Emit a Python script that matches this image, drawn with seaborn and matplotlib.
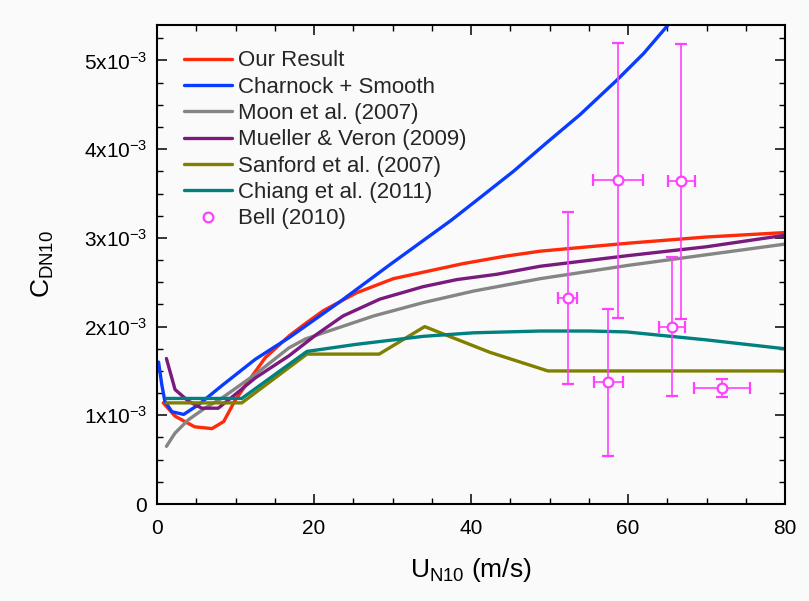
import numpy as np
import pandas as pd
import matplotlib
matplotlib.use('Agg')
import matplotlib.pyplot as plt
import seaborn as sns
from matplotlib.ticker import MultipleLocator
from matplotlib.lines import Line2D

# ----------------------
# Curves: U_N10 (m/s) and C_DN10 (in units of 1e-3)
our_u = [0.8, 2.3, 4.8, 7.0, 8.5, 9.9, 11.6, 13.8, 16.9, 19.0, 21.2, 25.4, 30.1, 34.8, 39.0, 44.1, 48.8, 55, 60, 70, 80]
our_cd = [1.14, 0.99, 0.87, 0.85, 0.93, 1.16, 1.38, 1.65, 1.90, 2.04, 2.18, 2.38, 2.54, 2.63, 2.71, 2.79, 2.85, 2.90, 2.94, 3.01, 3.06]

blue_u = [0.2, 0.6, 1.0, 1.9, 3.4, 5.3, 8.2, 12.5, 16.9, 23.3, 29.7, 37.5, 41.1, 45.4, 49.6, 53.9, 58.6, 62.0, 65.1, 66.0]
blue_cd = [1.60, 1.35, 1.16, 1.04, 1.01, 1.12, 1.33, 1.63, 1.88, 2.28, 2.70, 3.20, 3.45, 3.75, 4.07, 4.39, 4.78, 5.08, 5.40, 5.50]

moon_u = [1.2, 2.3, 4.0, 6.1, 8.2, 12.5, 16.8, 18.9, 21.2, 27.6, 33.9, 40.3, 48.8, 60, 70, 80]
moon_cd = [0.65, 0.80, 0.95, 1.08, 1.19, 1.46, 1.76, 1.86, 1.93, 2.12, 2.27, 2.40, 2.54, 2.69, 2.81, 2.93]

mueller_u = [1.2, 2.3, 4.0, 5.7, 7.8, 9.9, 12.5, 16.8, 20.3, 23.7, 28.4, 33.9, 38.2, 43.3, 48.8, 60, 70, 80]
mueller_cd = [1.64, 1.29, 1.16, 1.08, 1.08, 1.23, 1.42, 1.67, 1.91, 2.12, 2.31, 2.45, 2.53, 2.59, 2.68, 2.80, 2.90, 3.03]

sanford_u = [1.2, 10.8, 19.1, 28.3, 34.1, 42.4, 49.8, 80]
sanford_cd = [1.14, 1.14, 1.69, 1.69, 2.00, 1.71, 1.50, 1.50]

chiang_u = [1.2, 10.8, 19.1, 25.4, 33.9, 40.3, 48.8, 55.1, 59.8, 70, 80]
chiang_cd = [1.19, 1.19, 1.72, 1.80, 1.89, 1.93, 1.95, 1.95, 1.94, 1.85, 1.75]

# Bell (2010) observations with error bars
bell_u = [52.3, 57.5, 58.7, 65.6, 66.8, 72.0]
bell_cd = [2.32, 1.37, 3.65, 2.00, 3.64, 1.31]
bell_uerr = [1.2, 1.8, 3.2, 1.6, 1.7, 3.6]
bell_cderr = [0.97, 0.83, 1.55, 0.78, 1.55, 0.10]

models = ['Our Result', 'Charnock + Smooth', 'Moon et al. (2007)',
          'Mueller & Veron (2009)', 'Sanford et al. (2007)', 'Chiang et al. (2011)']
colors = ['#ff2a0a', '#0a3cff', '#858585', '#7a1a7e', '#7f7f00', '#00807f']
bell_color = '#ff40ff'

curves = [(our_u, our_cd), (blue_u, blue_cd), (moon_u, moon_cd),
          (mueller_u, mueller_cd), (sanford_u, sanford_cd), (chiang_u, chiang_cd)]

frames = []
for name, (u, cd) in zip(models, curves):
    frames.append(pd.DataFrame({'u': u, 'cd': np.array(cd) * 1e-3, 'model': name}))
df = pd.concat(frames, ignore_index=True)

# ----------------------
sns.set_theme(style='ticks')
plt.rcParams['font.family'] = ['Liberation Sans', 'DejaVu Sans']
plt.rcParams['mathtext.fontset'] = 'custom'
plt.rcParams['mathtext.rm'] = 'Liberation Sans'
plt.rcParams['mathtext.it'] = 'Liberation Sans:italic'
plt.rcParams['mathtext.bf'] = 'Liberation Sans:bold'

bg = '#fafafa'
fig = plt.figure(figsize=(8.09, 6.01), dpi=100, facecolor=bg)
ax = fig.add_axes([157/809, 1 - 504/601, 628/809, 479/601])
ax.set_facecolor(bg)

sns.lineplot(data=df, x='u', y='cd', hue='model', hue_order=models,
             palette=dict(zip(models, colors)), sort=False, estimator=None,
             linewidth=2.4, legend=False, ax=ax)

ax.errorbar(bell_u, np.array(bell_cd) * 1e-3, xerr=bell_uerr,
            yerr=np.array(bell_cderr) * 1e-3, fmt='o', color=bell_color,
            mfc=bg, mec=bell_color, mew=1.6, markersize=7,
            elinewidth=1.2, capsize=4.3, capthick=1.2, zorder=5)

ax.set_xlim(0, 80)
ax.set_ylim(0, 5.4e-3)
ax.xaxis.set_major_locator(MultipleLocator(20))
ax.xaxis.set_minor_locator(MultipleLocator(5))
ax.yaxis.set_major_locator(MultipleLocator(1e-3))
ax.yaxis.set_minor_locator(MultipleLocator(0.25e-3))
ax.set_yticks([0, 1e-3, 2e-3, 3e-3, 4e-3, 5e-3])
ax.set_yticklabels(['0'] + [r'$\mathregular{%dx10^{-3}}$' % i for i in range(1, 6)])

ax.tick_params(which='both', direction='in', top=True, right=True,
               labelsize=15, color='black', labelcolor='black')
ax.tick_params(which='major', length=7, width=1.1)
ax.tick_params(which='minor', length=4, width=1.0)
ax.tick_params(axis='x', which='major', pad=11)
ax.tick_params(axis='y', which='major', pad=7)
for s in ax.spines.values():
    s.set_linewidth(1.5)
    s.set_color('black')

ax.set_xlabel(r'U$_{\mathregular{N10}}$ (m/s)', fontsize=19, color='black', labelpad=13)
ax.set_ylabel(r'C$_{\mathregular{DN10}}$', fontsize=19, color='black', labelpad=20)

handles = [Line2D([], [], color=c, linewidth=2.4) for c in colors]
handles.append(Line2D([], [], marker='o', linestyle='none', mfc=bg,
                      mec=bell_color, mew=1.6, markersize=7))
labels = models + ['Bell (2010)']
ax.legend(handles, labels, loc='upper left', bbox_to_anchor=(0.043, 0.947),
          frameon=False, fontsize=16, handlelength=2.15, handletextpad=0.3,
          labelspacing=0.24, borderaxespad=0, borderpad=0)

fig.savefig('out.png', dpi=100, facecolor=bg)
